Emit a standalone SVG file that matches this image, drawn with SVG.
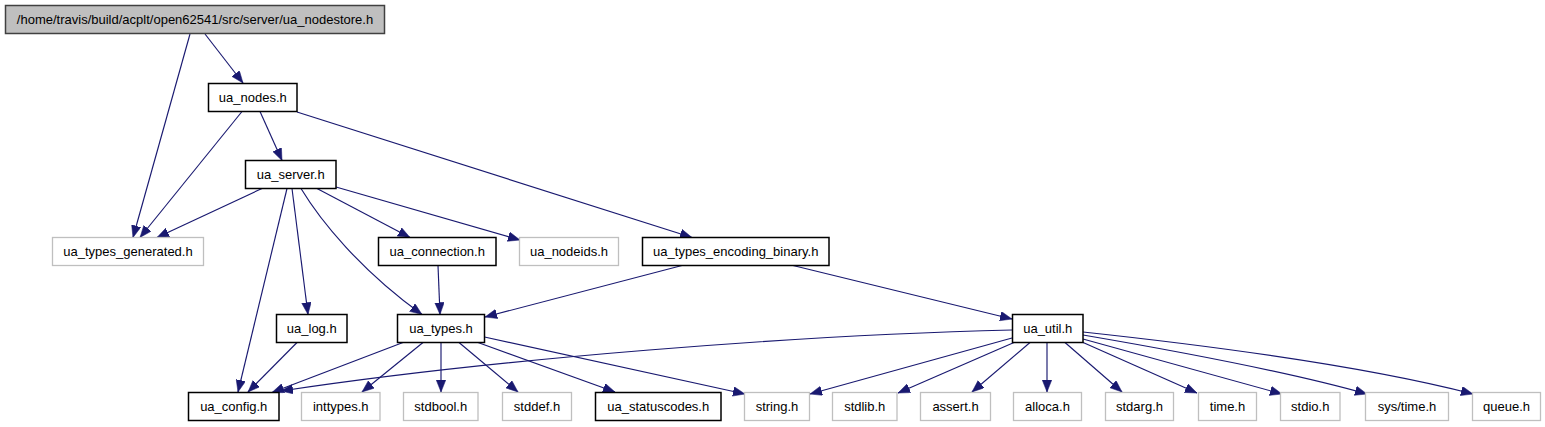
<svg xmlns="http://www.w3.org/2000/svg" width="1545" height="427" viewBox="0 0 1545 427">
<style>
  .n rect { fill: #ffffff; stroke: #000000; stroke-width: 1.5; }
  .g rect { fill: #ffffff; stroke: #bfbfbf; stroke-width: 1.3; }
  .r rect { fill: #bfbfbf; stroke: #404040; stroke-width: 1.5; }
  text { font-family: "Liberation Sans", Arial, Helvetica, sans-serif; font-size: 13px; fill: #000000; text-anchor: middle; }
  .e path { fill: none; stroke: #191970; stroke-width: 1.15; marker-end: url(#ah); }
</style>
<defs>
  <marker id="ah" markerUnits="userSpaceOnUse" markerWidth="13" markerHeight="10" refX="12" refY="4.75" orient="auto">
    <path d="M0,0 L12,4.75 L0,9.5 z" fill="#191970" stroke="#191970" stroke-width="0.5"/>
  </marker>
</defs>
<rect x="0" y="0" width="1545" height="427" fill="#ffffff"/>
<g id="edges" class="e">
  <path d="M190,34 L133,237.5"/>
  <path d="M205,34 L243,83"/>
  <path d="M242,111.5 L140,237.5"/>
  <path d="M260,111.5 L282,160.5"/>
  <path d="M297,112 L692,237.5"/>
  <path d="M262,188.5 L157,237.5"/>
  <path d="M287,188.5 L238,392"/>
  <path d="M292,188.5 L308,314.5"/>
  <path d="M301,188.5 C320,220 360,270 422,314.5"/>
  <path d="M317,188.5 L410,237.5"/>
  <path d="M336,187 L520,240"/>
  <path d="M438,265.5 L440,314.5"/>
  <path d="M682,265.5 L485,317"/>
  <path d="M793,265.5 L1012,319"/>
  <path d="M297,342.5 L248,392"/>
  <path d="M403,342.5 L272,392.5"/>
  <path d="M423,342.5 L362,392"/>
  <path d="M441,342.5 L441,392"/>
  <path d="M459,342.5 L518,392"/>
  <path d="M478,342.5 L615,392"/>
  <path d="M484.5,337 L745,394"/>
  <path d="M1012,330 C800,335 500,358 281,391"/>
  <path d="M1012,338 L810,394"/>
  <path d="M1014,342.5 L898,393"/>
  <path d="M1030,342.5 L972,392"/>
  <path d="M1047,342.5 L1047,392"/>
  <path d="M1065,342.5 L1122,392"/>
  <path d="M1082,342 L1197,393"/>
  <path d="M1083,339 L1282,394"/>
  <path d="M1083,335 C1200,355 1300,375 1367,394"/>
  <path d="M1083,332 C1250,350 1380,370 1473,394"/>
</g>
<g id="node_root" class="r"><rect x="5.5" y="5.5" width="379" height="28"/><text x="195" y="24">/home/travis/build/acplt/open62541/src/server/ua_nodestore.h</text></g>
<g id="node_ua_nodes" class="n"><rect x="208.5" y="83.5" width="88.5" height="28"/><text x="252.75" y="102">ua_nodes.h</text></g>
<g id="node_ua_server" class="n"><rect x="245.5" y="160.5" width="90.5" height="28"/><text x="290.75" y="179">ua_server.h</text></g>
<g id="node_ua_types_generated" class="g"><rect x="52.5" y="237.5" width="151" height="28"/><text x="128" y="256">ua_types_generated.h</text></g>
<g id="node_ua_connection" class="n"><rect x="378.5" y="237.5" width="117.5" height="28"/><text x="437.25" y="256">ua_connection.h</text></g>
<g id="node_ua_nodeids" class="g"><rect x="519.5" y="237.5" width="99" height="28"/><text x="569" y="256">ua_nodeids.h</text></g>
<g id="node_ua_types_encoding_binary" class="n"><rect x="642.5" y="237.5" width="186.5" height="28"/><text x="735.75" y="256">ua_types_encoding_binary.h</text></g>
<g id="node_ua_log" class="n"><rect x="276.5" y="314.5" width="70.5" height="28"/><text x="311.75" y="333">ua_log.h</text></g>
<g id="node_ua_types" class="n"><rect x="397.5" y="314.5" width="87" height="28"/><text x="441" y="333">ua_types.h</text></g>
<g id="node_ua_util" class="n"><rect x="1012.5" y="314.5" width="70.5" height="28"/><text x="1047.75" y="333">ua_util.h</text></g>
<g id="node_ua_config" class="n"><rect x="188.5" y="392.5" width="90.5" height="28"/><text x="233.75" y="411">ua_config.h</text></g>
<g id="node_inttypes" class="g"><rect x="301.5" y="392.5" width="78.5" height="28"/><text x="340.75" y="411">inttypes.h</text></g>
<g id="node_stdbool" class="g"><rect x="403.5" y="392.5" width="74.5" height="28"/><text x="440.75" y="411">stdbool.h</text></g>
<g id="node_stddef" class="g"><rect x="502.5" y="392.5" width="69" height="28"/><text x="537" y="411">stddef.h</text></g>
<g id="node_ua_statuscodes" class="n"><rect x="595.5" y="392.5" width="125.5" height="28"/><text x="658.25" y="411">ua_statuscodes.h</text></g>
<g id="node_string" class="g"><rect x="744.5" y="392.5" width="65" height="28"/><text x="777" y="411">string.h</text></g>
<g id="node_stdlib" class="g"><rect x="832.5" y="392.5" width="64.5" height="28"/><text x="864.75" y="411">stdlib.h</text></g>
<g id="node_assert" class="g"><rect x="920.5" y="392.5" width="70" height="28"/><text x="955.5" y="411">assert.h</text></g>
<g id="node_alloca" class="g"><rect x="1013.5" y="392.5" width="68" height="28"/><text x="1047.5" y="411">alloca.h</text></g>
<g id="node_stdarg" class="g"><rect x="1105.5" y="392.5" width="68" height="28"/><text x="1139.5" y="411">stdarg.h</text></g>
<g id="node_time" class="g"><rect x="1198.5" y="392.5" width="58" height="28"/><text x="1227.5" y="411">time.h</text></g>
<g id="node_stdio" class="g"><rect x="1280.5" y="392.5" width="59.5" height="28"/><text x="1310.25" y="411">stdio.h</text></g>
<g id="node_sys_time" class="g"><rect x="1365.5" y="392.5" width="83" height="28"/><text x="1407" y="411">sys/time.h</text></g>
<g id="node_queue" class="g"><rect x="1472.5" y="392.5" width="68" height="28"/><text x="1506.5" y="411">queue.h</text></g>
</svg>
